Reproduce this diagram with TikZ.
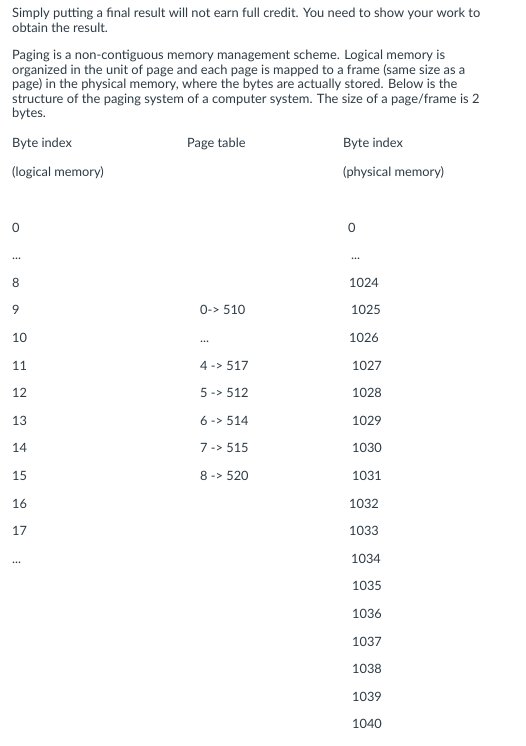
\documentclass[tikz,border=0pt]{standalone}
\usepackage{fontspec}
\setmainfont{Lato}
\usepackage{xcolor}
\definecolor{ink}{HTML}{2D3B45}
\newcommand{\gapdots}{.\kern0pt.\kern0pt.}

\begin{document}
\begin{tikzpicture}[x=1pt,y=-1pt,
    every node/.style={inner sep=0pt, anchor=base west, text=ink},
    prose/.style={font=\fontsize{12.9}{15}\selectfont},
    cell/.style={font=\fontsize{12.8}{14}\selectfont}]

    \useasboundingbox[fill=white] (0,0) rectangle (525,746);

    % question
    \node[prose] (t1) at (12,18) {Simply putting a final result will not earn full credit. You need to show your work to};
    \node[prose] (t2) at (12,32.5) {obtain the result.};
    \node[prose] (t3) at (12,60) {Paging is a non-contiguous memory management scheme. Logical memory is};
    \node[prose] (t4) at (12,74.5) {organized in the unit of page and each page is mapped to a frame (same size as a};
    \node[prose] (t5) at (12,89) {page) in the physical memory, where the bytes are actually stored. Below is the};
    \node[prose] (t6) at (12,103.5) {structure of the paging system of a computer system. The size of a page/frame is 2};
    \node[prose] (t7) at (12,118) {bytes.};

    % headers
    \node[cell] (h1) at (12,148) {Byte index};
    \node[cell] (h2) at (12,176) {(logical memory)};
    \node[cell] (h3) at (187,148) {Page table};
    \node[cell] (h4) at (343,148) {Byte index};
    \node[cell] (h5) at (343,176) {(physical memory)};

    % logical
    \foreach \t [count=\k from 0] in {0,\gapdots,8,9,10,11,12,13,14,15,16,17,\gapdots}
             { \node[cell] (l\k) at (12,232+27.6*\k) {\t};}

             % page table
             \foreach \t/\k in {0-> 510/3,\gapdots/4,4 -> 517/5,5 -> 512/6,6 -> 514/7,7 -> 515/8,8 -> 520/9}
                      { \node[cell] (p\k) at (200,232+27.6*\k) {\t};}

                      % physical
                      \foreach \t/\x [count=\k from 0] in {0/348,\gapdots/351,1024/349,1025/351,1026/349,1027/352,1028/352,1029/352,1030/352,1031/352,1032/349,1033/349,1034/351,1035/352,1036/352,1037/352,1038/352,1039/352,1040/352}
                               { \node[cell] (r\k) at (\x,232+27.6*\k) {\t};}

\end{tikzpicture}
\end{document}
